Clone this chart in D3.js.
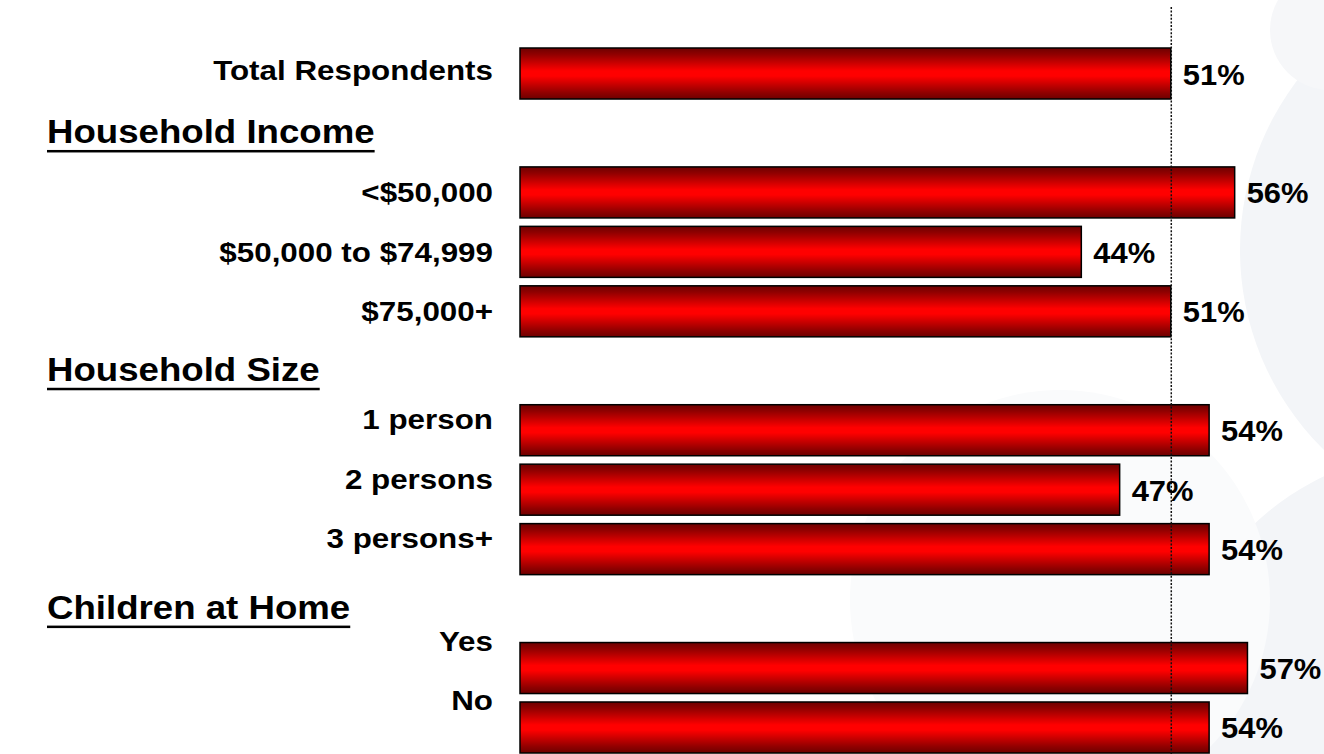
<!DOCTYPE html>
<html>
<head>
<meta charset="utf-8">
<script src="https://cdn.jsdelivr.net/npm/d3@7"></script>
<style>
  html, body { margin: 0; padding: 0; background: #ffffff; }
  svg { display: block; }
  text { font-family: "Liberation Sans", Arial, Helvetica, sans-serif; font-weight: bold; fill: #000; }
</style>
</head>
<body>
<svg id="chart" width="1324" height="754"></svg>
<script>
// Share of respondents (%) by segment
const categories = ["Total Respondents", "<$50,000", "$50,000 to $74,999", "$75,000+",
                    "1 person", "2 persons", "3 persons+", "Yes", "No"];
const values = [51, 56, 44, 51, 54, 47, 54, 57, 54];
const groups = ["total", "income", "income", "income", "size", "size", "size", "children", "children"];
const groupHeaders = ["Household Income", "Household Size", "Children at Home"];
const headerGroups = ["income", "size", "children"];
const referenceValue = 51;

// Rows in display order: each header sits on its own row before its group
const rows = [];
categories.forEach((c, i) => {
  const h = headerGroups.indexOf(groups[i]);
  if (h >= 0 && !rows.some(r => r.type === "header" && r.label === groupHeaders[h])) {
    rows.push({ type: "header", label: groupHeaders[h], key: "h" + h });
  }
  rows.push({ type: "bar", label: c, value: values[i], group: groups[i], key: "b" + i });
});

const svg = d3.select("#chart");
const W = 1324, H = 754;

// faint background discs
const bg = svg.append("g");
[[1520, 250, 280, "#f3f5f8"], [1440, 720, 270, "#f3f5f8"], [1060, 600, 210, "#fafbfc"], [1330, 30, 60, "#f6f7f9"]]
  .forEach(([cx, cy, r, f]) => bg.append("circle").attr("cx", cx).attr("cy", cy).attr("r", r).attr("fill", f));

const x = d3.scaleLinear().domain([0, 60]).range([519, 519 + 60 * 12.78]);
const y = d3.scaleBand().domain(rows.map(r => r.key)).range([48, 753]).paddingInner(0.142).paddingOuter(0);

// bar fill: dark edges, bright centre
const defs = svg.append("defs");
const grad = defs.append("linearGradient").attr("id", "barGrad")
  .attr("x1", 0).attr("y1", 0).attr("x2", 0).attr("y2", 1);
[[0, "#6e0000"], [0.12, "#8f0000"], [0.45, "#ff0000"], [0.55, "#ff0000"], [0.88, "#8f0000"], [1, "#6e0000"]]
  .forEach(([o, c]) => grad.append("stop").attr("offset", o).attr("stop-color", c));

const barRows = rows.filter(r => r.type === "bar");

svg.append("g").selectAll("rect").data(barRows).join("rect")
  .attr("x", x(0) + 1)
  .attr("y", d => y(d.key))
  .attr("width", d => x(d.value) - x(0) - 1)
  .attr("height", y.bandwidth())
  .attr("fill", "url(#barGrad)")
  .attr("stroke", "#000")
  .attr("stroke-width", 1.5);

// reference line at the total value
svg.append("line")
  .attr("x1", x(referenceValue) + 0.5).attr("x2", x(referenceValue) + 0.5)
  .attr("y1", 7).attr("y2", H)
  .attr("stroke", "#111").attr("stroke-width", 1.5)
  .attr("stroke-dasharray", "2,1.6");

// category labels
const labelShift = { total: -4, income: 0, size: -11, children: -27 };
svg.append("g").selectAll("text").data(barRows).join("text")
  .attr("transform", d => `translate(493,${y(d.key) + y.bandwidth() / 2 + labelShift[d.group] + 10}) scale(1.12,1)`)
  .attr("text-anchor", "end")
  .style("font-size", "28px")
  .text(d => d.label);

// value labels
svg.append("g").selectAll("text").data(barRows).join("text")
  .attr("transform", d => `translate(${x(d.value) + 12},${y(d.key) + y.bandwidth() / 2 + 11}) scale(1.03,1)`)
  .style("font-size", "30px")
  .text(d => d.value + "%");

// group headers, underlined
const headerRows = rows.filter(r => r.type === "header");
const hg = svg.append("g").selectAll("g").data(headerRows).join("g")
  .attr("transform", d => `translate(47,${y(d.key) + y.bandwidth() / 2 + 10})`);
hg.append("text")
  .attr("transform", "scale(1.11,1)")
  .style("font-size", "33px")
  .text(d => d.label);
hg.each(function () {
  const t = d3.select(this).select("text").node();
  const w = t.getComputedTextLength() * 1.11;
  d3.select(this).append("rect")
    .attr("x", 0).attr("y", 7).attr("width", w).attr("height", 2.5).attr("fill", "#000");
});
</script>
</body>
</html>
